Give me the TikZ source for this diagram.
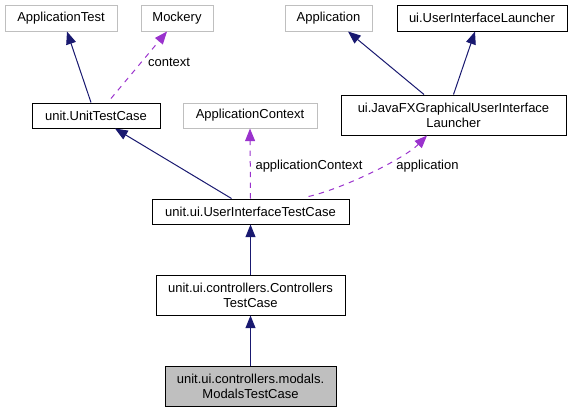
\documentclass[tikz,border=0pt]{standalone}
\usepackage{fontspec}
\setmainfont{Liberation Sans}
\usetikzlibrary{arrows.meta,calc}
\definecolor{edgeblue}{HTML}{191970}
\definecolor{edgepurple}{HTML}{9A32CD}
\definecolor{boxgray}{HTML}{BFBFBF}
\tikzset{every picture/.style={line width=0.75pt}}
\tikzset{
  cls/.style={draw=black, inner sep=0pt, align=center, font=\fontsize{9.75}{11.25}\selectfont},
  extcls/.style={cls, draw=boxgray},
  inherit/.style={draw=edgeblue, -{Triangle[length=9.5pt,width=7.5pt,fill=edgeblue]}},
  uses/.style={draw=edgepurple, dash pattern=on 4pt off 4pt, -{Triangle[length=9.5pt,width=7.5pt,fill=edgepurple]}},
  lbl/.style={inner sep=0.75pt, font=\fontsize{9.75}{11.25}\selectfont}
}
\begin{document}
\begin{tikzpicture}[x=0.75pt,y=0.75pt,yscale=-1,xscale=1]
\useasboundingbox (0,0) rectangle (571,412);

%Top row
\node [extcls, minimum width=84pt, minimum height=19.5pt] (apptest) at (61,18) {ApplicationTest};
\node [extcls, minimum width=54pt, minimum height=19.5pt] (mockery) at (177,18) {Mockery};
\node [extcls, minimum width=65.25pt, minimum height=19.5pt] (app) at (328.5,18) {Application};
\node [cls, minimum width=127.5pt, minimum height=19.5pt] (uilauncher) at (482,18) {ui.UserInterfaceLauncher};

%Second row
\node [cls, minimum width=96pt, minimum height=18.75pt] (unittc) at (96,115.5) {unit.UnitTestCase};
\node [extcls, minimum width=100.5pt, minimum height=18.75pt] (appctx) at (250,115.5) {ApplicationContext};
\node [cls, minimum width=168.75pt, minimum height=30pt] (jfxlauncher) at (453.5,115) {ui.JavaFXGraphicalUserInterface\\Launcher};

%Lower classes
\node [cls, minimum width=147.75pt, minimum height=18.75pt] (uitc) at (250.5,211.5) {unit.ui.UserInterfaceTestCase};
\node [cls, minimum width=141.75pt, minimum height=30pt] (ctrltc) at (250.5,295) {unit.ui.controllers.Controllers\\TestCase};
\node [cls, fill=boxgray, minimum width=128.25pt, minimum height=30pt] (modalstc) at (250.5,386) {unit.ui.controllers.modals.\\ModalsTestCase};

%Inheritance
\draw [inherit] ($(unittc.north)+(-5,0)$) -- ($(apptest.south)+(6,0)$) ;
\draw [inherit] ($(uitc.north)+(-19,0)$) -- ($(unittc.south)+(19,0)$) ;
\draw [inherit] ($(jfxlauncher.north)+(-29.5,0)$) -- ($(app.south)+(19.5,0)$) ;
\draw [inherit] ($(jfxlauncher.north)+(0,0)$) -- ($(uilauncher.south)+(-7,0)$) ;
\draw [inherit] (ctrltc.north) -- (uitc.south) ;
\draw [inherit] (modalstc.north) -- (ctrltc.south) ;

%Usage
\draw [uses] ($(unittc.north)+(15,-4)$) -- ($(mockery.south)+(-10,0)$) ;
\draw [uses] (uitc.north) -- (appctx.south) ;
\draw [uses] ($(uitc.north)+(58,-2)$) .. controls (345,188) and (405,158) .. ($(jfxlauncher.south)+(-26.5,0)$) ;

% Text Node
\node [lbl] (ctxlbl) at (169,62) {context};
% Text Node
\node [lbl] (appctxlbl) at (309,166) {applicationContext};
% Text Node
\node [lbl] (applbl) at (427.5,166) {application};

\end{tikzpicture}
\end{document}
